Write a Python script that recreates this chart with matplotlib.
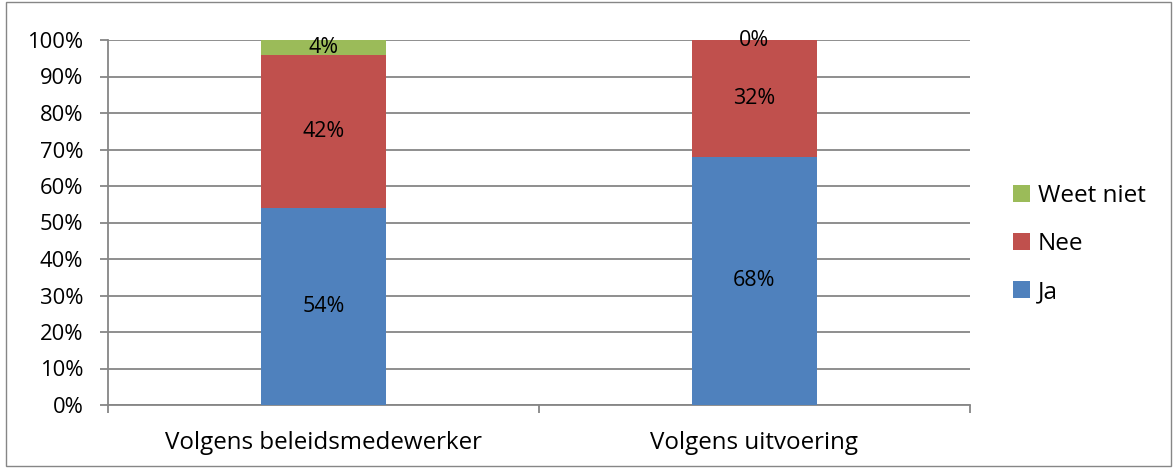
import matplotlib
matplotlib.use("Agg")
import matplotlib.pyplot as plt
from matplotlib.patches import Rectangle
import numpy as np

categories = ["Volgens beleidsmedewerker", "Volgens uitvoering"]
ja = [54, 68]
nee = [42, 32]
weet_niet = [4, 0]
series = [("Ja", ja, "#4F81BD"), ("Nee", nee, "#C0504D"), ("Weet niet", weet_niet, "#9BBB59")]
yticks = list(range(0, 101, 10))

plt.rcParams['font.family'] = ['Open Sans', 'DejaVu Sans']
fig = plt.figure(figsize=(11.74, 4.68), dpi=100)
W, H = 1174, 468
ax = fig.add_axes([108 / W, 1 - 405 / H, (970 - 108) / W, (405 - 40) / H])

x = np.arange(len(categories))
bottom = np.zeros(len(categories))
handles = []
for name, vals, col in series:
    b = ax.bar(x, vals, width=0.288, bottom=bottom, color=col, label=name, zorder=3)
    handles.append(b)
    for xi, v, bt in zip(x, vals, bottom):
        ax.text(xi, bt + v / 2, f"{v}%", ha="center", va="center", fontsize=15.5, color="#000000", zorder=4)
    bottom += np.array(vals)

ax.set_xlim(-0.5, len(categories) - 0.5)
ax.set_ylim(0, 100)
ax.set_yticks(yticks)
ax.set_yticklabels([f"{t}%" for t in yticks], fontsize=15.8)
ax.set_xticks(x)
ax.set_xticklabels(categories, fontsize=17.4)
ax.tick_params(axis="x", length=0, pad=19)
ax.tick_params(axis="y", length=5.8, width=1.3, color="#868686", pad=12)
# category boundary ticks
ax.set_xticks([-0.5, 0.5, 1.5], minor=True)
ax.tick_params(axis="x", which="minor", length=5.8, width=1.3, color="#868686")
ax.grid(axis="y", color="#868686", linewidth=1.3, zorder=0)
for s in ["top", "right"]:
    ax.spines[s].set_visible(False)
ax.spines["left"].set_color("#868686")
ax.spines["left"].set_linewidth(1.3)
ax.spines["bottom"].set_color("#868686")
ax.spines["bottom"].set_linewidth(1.3)

leg = fig.legend(handles=handles[::-1], labels=[s[0] for s in series][::-1],
                 loc="center left", bbox_to_anchor=(1013 / W, 1 - 244 / H),
                 frameon=False, fontsize=17.5, handlelength=0.7, handleheight=0.7,
                 handletextpad=0.33, labelspacing=1.0, borderpad=0, borderaxespad=0)

fig.patches.append(Rectangle((6 / W, 2 / H), (1171 - 6) / W, (466 - 2) / H, transform=fig.transFigure,
                             fill=False, edgecolor="#868686", linewidth=1.0))

fig.savefig("out.png", dpi=100)
